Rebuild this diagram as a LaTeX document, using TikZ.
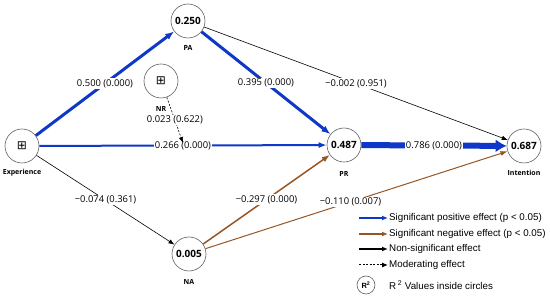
\documentclass[tikz,border=0pt]{standalone}
\usepackage{fontspec}
\setmainfont{Open Sans}
\newfontfamily\legfont{Liberation Sans}
\newfontfamily\symfont{DejaVu Sans}
\usetikzlibrary{arrows.meta}
\definecolor{posblue}{RGB}{16,56,200}
\definecolor{negbrown}{RGB}{150,86,36}
\definecolor{ringgray}{RGB}{95,95,95}
\begin{document}
\begin{tikzpicture}[x=1pt,y=-1pt,
  var/.style={circle,draw=ringgray,line width=0.6pt,minimum size=34pt,inner sep=0pt,font=\bfseries\fontsize{10}{12}\selectfont},
  vlab/.style={font=\bfseries\fontsize{7}{8}\selectfont,inner sep=0pt},
  elab/.style={fill=white,inner sep=1pt,font=\fontsize{9.4}{10}\selectfont},
  posarrow/.style={draw=posblue,-{Latex[length=9pt,width=7pt]}},
  negarrow/.style={draw=negbrown,-{Latex[length=7pt,width=5pt]}},
  nsarrow/.style={draw=black,line width=0.6pt,-{Latex[length=6pt,width=4.5pt]}},
  modarrow/.style={draw=black,line width=0.6pt,dash pattern=on 2pt off 1.5pt,-{Latex[length=6pt,width=4.5pt]}},
  legtext/.style={anchor=west,font=\legfont\fontsize{9.8}{11}\selectfont,inner sep=0pt},
  plusbox/.style={font=\symfont\mdseries\fontsize{12}{12}\selectfont}
]
\useasboundingbox (0,0) rectangle (550,296);

% variables
\node[var,plusbox] (exp) at (22,146) {⊞};
\node[var] (pa)  at (188,21) {0.250};
\node[var,plusbox] (nr)  at (161,81) {⊞};
\node[var] (pr)  at (344,145) {0.487};
\node[var] (int) at (524,146) {0.687};
\node[var] (na)  at (189,254) {0.005};

\node[vlab] (expl) at (22,173) {Experience};
\node[vlab] (pal)  at (188,48) {PA};
\node[vlab] (nrl)  at (161,109) {NR};
\node[vlab] (prl)  at (344,174) {PR};
\node[vlab] (intl) at (524,173) {Intention};
\node[vlab] (nal)  at (189,282) {NA};

% paths
\draw[posarrow,line width=3pt] (exp) -- node[elab] {0.500 (0.000)} (pa);
\draw[posarrow,line width=3pt] (pa) -- node[elab] {0.395 (0.000)} (pr);
\draw[nsarrow] (pa) -- node[elab] {−0.002 (0.951)} (int);
\draw[posarrow,line width=2pt,-{Latex[length=8pt,width=6pt]}] (exp) -- node[elab,pos=0.5] {0.266 (0.000)} (pr);
\draw[posarrow,line width=6pt,-{Latex[length=11pt,width=13pt]}] (pr) -- node[elab] {0.786 (0.000)} (int);
\draw[nsarrow] (exp) -- node[elab] {−0.074 (0.361)} (na);
\draw[negarrow,line width=1.5pt,-{Latex[length=8pt,width=6pt]}] (na) -- node[elab] {−0.297 (0.000)} (pr);
\draw[negarrow,line width=1pt] (na) -- node[elab,pos=0.48] {−0.110 (0.007)} (int);

\coordinate (modtgt) at (183,143);
\draw[modarrow] (nr) -- node[elab,pos=0.5] {0.023 (0.622)} (modtgt);

% legend
\coordinate (l1a) at (359,218); \coordinate (l1b) at (388,218);
\coordinate (l2a) at (359,234); \coordinate (l2b) at (388,234);
\coordinate (l3a) at (359,249); \coordinate (l3b) at (388,249);
\coordinate (l4a) at (359,265); \coordinate (l4b) at (388,265);
\draw[posarrow,line width=1.3pt,-{Latex[length=6pt,width=5pt]}] (l1a) -- (l1b);
\draw[negarrow,line width=1.3pt,-{Latex[length=6pt,width=5pt]}] (l2a) -- (l2b);
\draw[nsarrow,line width=1.3pt,-{Latex[length=6pt,width=5pt]}] (l3a) -- (l3b);
\draw[modarrow,line width=1pt,-{Latex[length=6pt,width=5pt]}] (l4a) -- (l4b);
\node[legtext] (t1) at (389,218) {Significant positive effect (p < 0.05)};
\node[legtext] (t2) at (389,234) {Significant negative effect (p < 0.05)};
\node[legtext] (t3) at (389,249) {Non-significant effect};
\node[legtext] (t4) at (389,265) {Moderating effect};
\node[circle,draw=ringgray,line width=0.6pt,minimum size=18pt,inner sep=0pt,font=\legfont\bfseries\fontsize{7.5}{8}\selectfont] (r2) at (366,285) {R\textsuperscript{2}};
\node[legtext] (t5) at (389,285) {R\,\textsuperscript{2} Values inside circles};
\end{tikzpicture}
\end{document}
